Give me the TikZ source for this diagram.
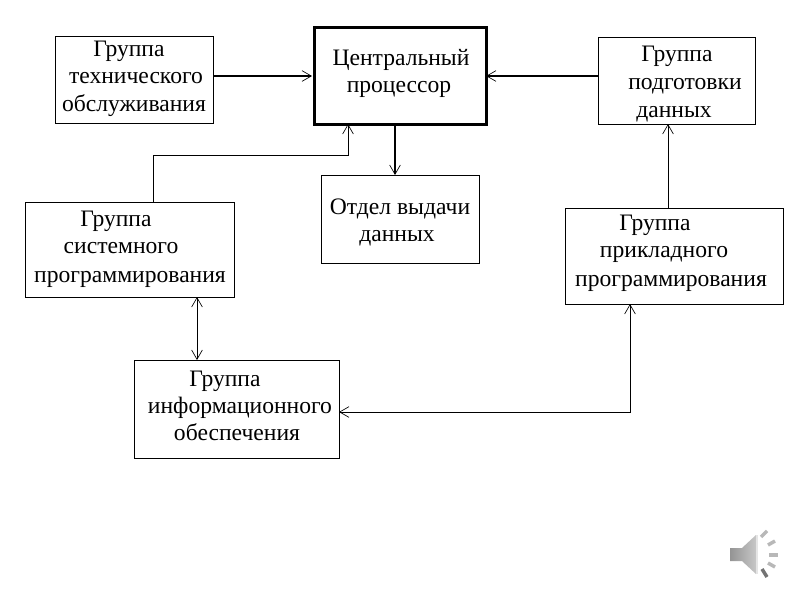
\documentclass[tikz,border=0pt]{standalone}
\usepackage{fontspec}
\setmainfont{Liberation Serif}
\usetikzlibrary{arrows.meta,positioning}
\tikzset{
  x=0.75pt,y=-0.75pt,
  boxn/.style={draw=black,line width=1.1pt,fill=white,minimum width=#1*0.75pt,inner sep=0pt,anchor=north west},
  lab/.style={inner sep=0pt,font=\fontsize{17.7pt}{20pt}\selectfont,text=black,anchor=base},
  conn/.style={draw=black,line width=0.6pt,-{Straight Barb[length=7pt,width=8pt,line width=0.5pt]}},
  connb/.style={draw=black,line width=1.2pt,-{Straight Barb[length=7pt,width=8pt,line width=0.5pt]}},
  dbl/.style={draw=black,line width=0.6pt,{Straight Barb[length=7pt,width=8pt,line width=0.5pt]}-{Straight Barb[length=7pt,width=8pt,line width=0.5pt]}},
  ray/.style={line width=2.6pt,draw=black!28}
}
\begin{document}
\begin{tikzpicture}
\useasboundingbox (0,0) rectangle (800,600);
\fill[white] (0,0) rectangle (800,600);
% boxes
\node[boxn=158,minimum height=87*0.75pt] (tech) at (55,36) {};
\node[boxn=172,minimum height=97*0.75pt,line width=2.4pt] (cpu) at (313,26) {};
\node[boxn=157,minimum height=87*0.75pt] (prep) at (598,37) {};
\node[boxn=158,minimum height=88*0.75pt] (out) at (321,175) {};
\node[boxn=209,minimum height=95*0.75pt] (sys) at (25,202) {};
\node[boxn=218,minimum height=96*0.75pt] (app) at (565,208) {};
\node[boxn=205,minimum height=98*0.75pt] (info) at (134,360) {};
% helper points
\coordinate (techR) at (213,76);
\coordinate (cpuL) at (312,76);
\coordinate (sysUp) at (153,202);
\coordinate (bendA) at (153,155);
\coordinate (bendB) at (348,155);
\coordinate (cpuB) at (348,124);
\coordinate (cpuD) at (395,124);
\coordinate (outT) at (395,175);
\coordinate (prepL) at (598,76);
\coordinate (cpuR) at (486,76);
\coordinate (appT) at (668,208);
\coordinate (prepB) at (668,124);
\coordinate (sysB) at (197,297);
\coordinate (infoT) at (197,360);
\coordinate (infoR) at (339,412);
\coordinate (bendC) at (630,412);
\coordinate (appB) at (630,304);
% connectors
\draw[connb] (techR) -- (cpuL);
\draw[connb] (prepL) -- (cpuR);
\draw[conn] (sysUp) -- (bendA) -- (bendB) -- (cpuB);
\draw[connb] (cpuD) -- (outT);
\draw[conn] (appT) -- (prepB);
\draw[dbl] (sysB) -- (infoT);
\draw[dbl] (infoR) -- (bendC) -- (appB);
% labels
\node[lab] (t1) at (129,56) {Группа};
\node[lab] (t2) at (136,83) {технического};
\node[lab] (t3) at (134,111) {обслуживания};
\node[lab] (c1) at (401,65) {Центральный};
\node[lab] (c2) at (399,92) {процессор};
\node[lab] (p1) at (677,61) {Группа};
\node[lab] (p2) at (685,89) {подготовки};
\node[lab] (p3) at (674,117) {данных};
\node[lab] (o1) at (400,214) {Отдел выдачи};
\node[lab] (o2) at (397,241) {данных};
\node[lab] (s1) at (116,226) {Группа};
\node[lab] (s2) at (121,253) {системного};
\node[lab] (s3) at (130,282) {программирования};
\node[lab] (a1) at (655,230) {Группа};
\node[lab] (a2) at (664,257) {прикладного};
\node[lab] (a3) at (671,286) {программирования};
\node[lab] (i1) at (225,386) {Группа};
\node[lab] (i2) at (240,413) {информационного};
\node[lab] (i3) at (237,440) {обеспечения};
% speaker icon
\shade[left color=black!42,right color=black!22] (730,548) -- (742,548) -- (756,535) -- (756,574) -- (742,561) -- (730,561) -- cycle;
\draw[line width=0.8pt,black!10] (757,535) -- (757,574);
\draw[ray] (761,537) -- (767,531);
\draw[ray] (768,545) -- (775,541);
\draw[ray] (769,555) -- (778,555);
\draw[ray] (768,563) -- (775,567);
\draw[ray,black!55] (762,569) -- (767,577);
\end{tikzpicture}
\end{document}
